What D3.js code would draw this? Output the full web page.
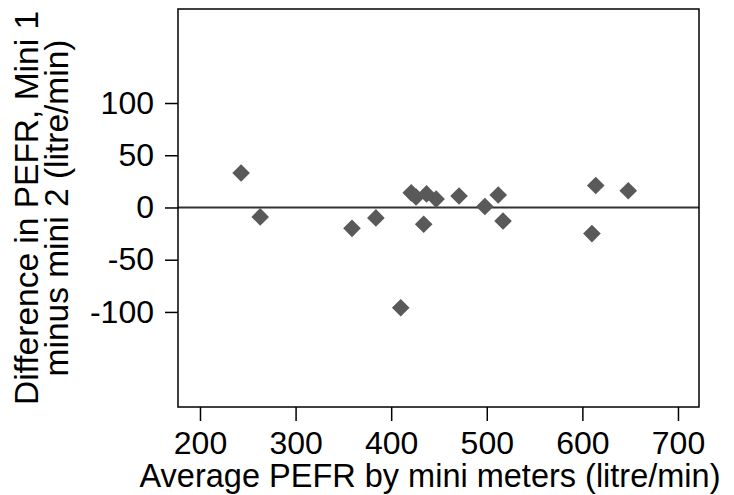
<!DOCTYPE html>
<html><head><meta charset="utf-8">
<script src="https://cdn.jsdelivr.net/npm/d3@7"></script>
<style>body{margin:0;background:#fff}svg{display:block}text{font-family:"Liberation Sans",Arial,sans-serif;fill:#000}</style>
</head><body>
<svg id="c" width="734" height="495"></svg>
<script>
const avgPEFR = [243, 263, 359, 384, 410, 421, 426, 437, 447, 434, 471, 498, 512, 517, 614, 610, 648];
const diffPEFR = [33, -9, -20, -10, -96, 14, 10, 13, 8, -16, 11, 1, 12, -13, 21, -25, 16];
const xTicks = [200, 300, 400, 500, 600, 700];
const yTicks = [100, 50, 0, -50, -100];
const xTitle = "Average PEFR by mini meters (litre/min)";
const yTitle = ["Difference in PEFR, Mini 1", "minus mini 2 (litre/min)"];

const svg = d3.select("#c");
const L = 178, R = 699, T = 9, B = 407;
const x = d3.scaleLinear().domain([177, 722]).range([L, R]);
const y = d3.scaleLinear().domain([-191, 190]).range([B, T]);
const fsTick = 32, fsXTitle = 32.5, fsYTitle = 33.5;

// zero line
svg.append("line").attr("x1", L).attr("x2", R).attr("y1", y(0)).attr("y2", y(0))
  .attr("stroke", "#333").attr("stroke-width", 2.2);

// points
const sym = d3.symbol().type(d3.symbolSquare).size(155);
svg.append("g").selectAll("path").data(avgPEFR.map((v, i) => [v, diffPEFR[i]])).join("path")
  .attr("d", sym)
  .attr("transform", d => `translate(${x(d[0])},${y(d[1])}) rotate(45)`)
  .attr("fill", "#595959");

// frame
svg.append("rect").attr("x", L).attr("y", T).attr("width", R - L).attr("height", B - T)
  .attr("fill", "none").attr("stroke", "#000").attr("stroke-width", 1.5);

// axes
const fmt = d => String(d);
const xa = svg.append("g").attr("transform", `translate(0,${B})`)
  .call(d3.axisBottom(x).tickValues(xTicks).tickFormat(fmt).tickSize(14).tickPadding(10));
const ya = svg.append("g").attr("transform", `translate(${L},0)`)
  .call(d3.axisLeft(y).tickValues(yTicks).tickFormat(fmt).tickSize(13).tickPadding(11));
[xa, ya].forEach(a => {
  a.select(".domain").remove();
  a.selectAll(".tick line").attr("stroke", "#000").attr("stroke-width", 1.5);
  a.selectAll(".tick text").attr("font-size", fsTick).attr("font-family", '"Liberation Sans", Arial, sans-serif').attr("fill", "#000");
});

svg.append("text").attr("x", 430).attr("y", 487).attr("text-anchor", "middle")
  .attr("font-size", fsXTitle).text(xTitle);
yTitle.forEach((t, i) => {
  svg.append("text").attr("transform", `translate(${38 + i * 30},${(T + B) / 2}) rotate(-90)`)
    .attr("text-anchor", "middle").attr("font-size", fsYTitle).text(t);
});
</script>
</body></html>
